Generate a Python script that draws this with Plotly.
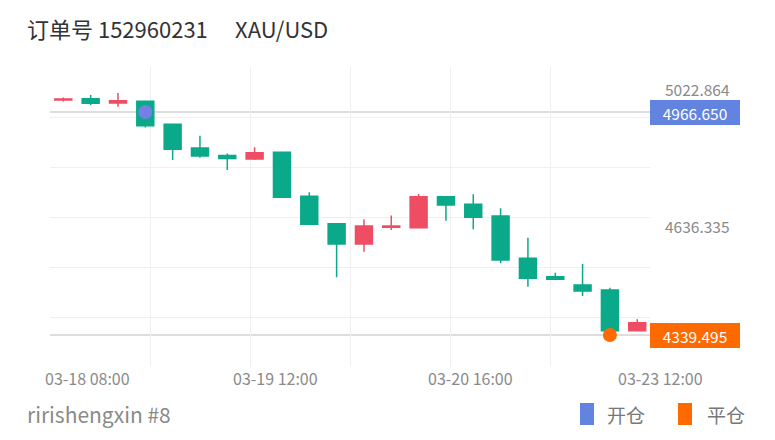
import plotly.graph_objects as go

# ---------------- data ----------------
order_no = "152960231"
symbol = "XAU/USD"
account = "ririshengxin #8"

candle_idx = list(range(22))
opens = [5000.4, 5004.1, 4992.0, 4996.7, 4932.1, 4865.4, 4844.3, 4834.5, 4853.3, 4729.6, 4652.6,
         4595.5, 4642.4, 4641.3, 4728.5, 4707.1, 4674.2, 4555.3, 4503.5, 4480.2, 4466.1, 4351.7]
highs = [5007.4, 5014.5, 5020.0, 4999.0, 4932.9, 4900.0, 4850.0, 4867.4, 4854.2, 4740.9, 4653.1,
         4664.9, 4675.6, 4736.1, 4730.4, 4735.2, 4695.9, 4613.2, 4514.8, 4539.2, 4472.6, 4383.7]
lows = [4996.2, 4986.3, 4981.6, 4923.1, 4831.7, 4838.1, 4803.6, 4831.7, 4726.2, 4650.3, 4501.8,
        4573.8, 4634.8, 4639.6, 4661.0, 4636.8, 4541.2, 4475.4, 4494.2, 4449.2, 4350.8, 4351.7]
closes = [5003.2, 4991.1, 4998.4, 4928.1, 4861.8, 4842.9, 4835.9, 4852.2, 4726.8, 4650.9, 4595.5,
          4646.1, 4646.1, 4728.5, 4705.1, 4670.6, 4550.5, 4499.0, 4496.2, 4463.3, 4351.7, 4374.2]

x_tick_labels = ["03-18 08:00", "03-19 12:00", "03-20 16:00", "03-23 12:00"]
x_tick_pos = [0.9, 7.75, 14.9, 21.85]

axis_labels = [5022.864, 4636.335]

open_idx, open_price = 3, 4966.650
close_idx, close_price = 20, 4339.495

legend_labels = ["开仓", "平仓"]

# ---------------- style ----------------
UP = "#ee4d63"
DOWN = "#0aa98a"
BLUE = "#6383e0"
BLUE_MARK = "#7480e6"
ORANGE = "#ff6a00"
GRID = "#efefef"
GREY = "#8a8a8a"
FONT = "Noto Sans CJK SC, Noto Sans, sans-serif"

W, H = 775, 440
L, R, T, B = 50, 125, 67, 73
PW, PH = W - L - R, H - T - B

x_lo, x_hi = -0.487, 21.467
y_lo, y_hi = 4249.6, 5093.2
grid_x = [x_lo + k * (x_hi - x_lo) / 6 for k in range(7)]
grid_y = [y_lo + k * (y_hi - y_lo) / 6 for k in range(7)]


def px(xp):
    return (xp - L) / PW


def py(yp):
    return (H - B - yp) / PH


fig = go.Figure()

fig.add_trace(go.Candlestick(
    x=candle_idx, open=opens, high=highs, low=lows, close=closes,
    increasing=dict(line=dict(color=UP, width=1.5), fillcolor=UP),
    decreasing=dict(line=dict(color=DOWN, width=1.5), fillcolor=DOWN),
    whiskerwidth=0, showlegend=False, hoverinfo="skip",
))

fig.add_trace(go.Scatter(
    x=[open_idx], y=[open_price], mode="markers",
    marker=dict(size=14, color=BLUE_MARK, line=dict(width=0)),
    showlegend=False, hoverinfo="skip", cliponaxis=False,
))
fig.add_trace(go.Scatter(
    x=[close_idx], y=[close_price], mode="markers",
    marker=dict(size=14, color=ORANGE, line=dict(width=0)),
    showlegend=False, hoverinfo="skip", cliponaxis=False,
))

shapes = []
for p in (open_price, close_price):
    shapes.append(dict(type="line", xref="paper", yref="y", x0=0, x1=1, y0=p, y1=p,
                       line=dict(color="#d2d2d2", width=1.5), layer="between"))

annotations = []
# title
annotations.append(dict(text="订单号 " + order_no, xref="paper", yref="paper",
                        x=px(25), y=py(28), xanchor="left", yanchor="middle", showarrow=False,
                        font=dict(size=22, color="#333333", family=FONT)))
annotations.append(dict(text=symbol, xref="paper", yref="paper",
                        x=px(233), y=py(28), xanchor="left", yanchor="middle", showarrow=False,
                        font=dict(size=22, color="#333333", family=FONT)))
# footer
annotations.append(dict(text=account, xref="paper", yref="paper",
                        x=px(25), y=py(414), xanchor="left", yanchor="middle", showarrow=False,
                        font=dict(size=21, color=GREY, family=FONT)))
# right axis labels
for v in axis_labels:
    annotations.append(dict(text=f"{v:.3f}", xref="paper", yref="y", x=px(663), y=v,
                            xanchor="left", yanchor="middle", showarrow=False, yshift=3,
                            font=dict(size=15.5, color=GREY, family=FONT)))
# price tags
for p, c in ((open_price, BLUE), (close_price, ORANGE)):
    annotations.append(dict(text=f"{p:.3f}", xref="paper", yref="y", x=1.0, y=p,
                            xanchor="left", yanchor="middle", showarrow=False,
                            bgcolor=c, borderpad=2, borderwidth=1, bordercolor=c,
                            width=84, height=19, align="center",
                            font=dict(size=15.5, color="white", family=FONT)))
# x labels
for lab, pos in zip(x_tick_labels, x_tick_pos):
    annotations.append(dict(text=lab, xref="paper", yref="paper",
                            x=(pos - x_lo) / (x_hi - x_lo), y=py(378),
                            xanchor="center", yanchor="middle", showarrow=False,
                            font=dict(size=16, color=GREY, family=FONT)))
# legend
for (x0, x1, tx), lab, c in zip(((580, 594, 605), (678, 692, 705)), legend_labels, (BLUE, ORANGE)):
    shapes.append(dict(type="rect", xref="paper", yref="paper",
                       x0=px(x0), x1=px(x1), y0=py(425), y1=py(403),
                       fillcolor=c, line=dict(width=0), layer="above"))
    annotations.append(dict(text=lab, xref="paper", yref="paper", x=px(tx), y=py(414),
                            xanchor="left", yanchor="middle", showarrow=False,
                            font=dict(size=19, color="#777777", family=FONT)))

fig.update_layout(
    width=W, height=H, autosize=False,
    margin=dict(l=L, r=R, t=T, b=B, pad=0),
    paper_bgcolor="white", plot_bgcolor="white",
    font=dict(family=FONT),
    boxgap=0.38, boxgroupgap=0,
    showlegend=False,
    shapes=shapes, annotations=annotations,
    xaxis=dict(range=[x_lo, x_hi], tickmode="array", tickvals=grid_x, showticklabels=False,
               ticks="", showgrid=True, gridcolor=GRID, gridwidth=1, zeroline=False,
               showline=False, rangeslider=dict(visible=False), fixedrange=True),
    yaxis=dict(range=[y_lo, y_hi], tickmode="array", tickvals=grid_y, showticklabels=False,
               ticks="", showgrid=True, gridcolor=GRID, gridwidth=1, zeroline=False,
               showline=False, fixedrange=True),
)

fig.write_html("out.html", config={"displayModeBar": False},
               post_script="document.body.style.margin='0';document.body.style.overflow='hidden';")
